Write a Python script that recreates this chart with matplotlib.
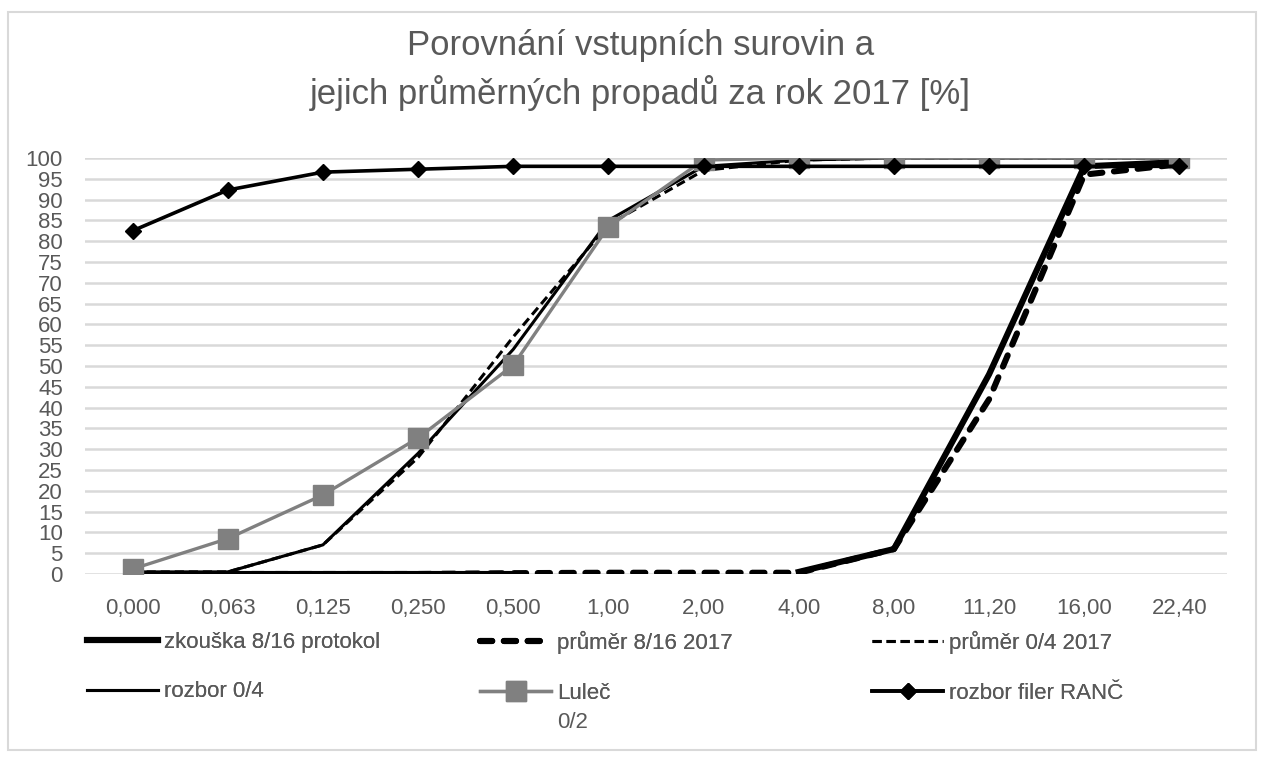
import numpy as np
import matplotlib.pyplot as plt
from matplotlib.patches import Rectangle

plt.rcParams['font.family'] = ['Liberation Sans', 'DejaVu Sans']

# Data
sita = ['0,000', '0,063', '0,125', '0,250', '0,500', '1,00', '2,00',
        '4,00', '8,00', '11,20', '16,00', '22,40']
zkouska_816 = [0, 0, 0, 0, 0, np.nan, np.nan, 0.5, 6, 48, 98, 99]
prumer_816 = [0, 0, 0, 0, 0.2, 0.3, 0.3, 0.3, 6, 42, 96, 98.5]
prumer_04 = [0.5, 0.5, 7, 28, 57, 84, 97, 99.5, 100, 100, 100, 100]
rozbor_04 = [0.5, 0.5, 7, 29, 54, 85, 98, 99.5, 100, 100, 100, 100]
lulec_02 = [1.2, 8.5, 19, 32.7, 50.2, 83.5, 99.5, 100, 100, 100, 100, 100]
filer_ranc = [82.5, 92.3, 96.6, 97.3, 98, 98, 98, 98, 98, 98, 98, 98]

x = np.arange(len(sita))
grey_text = '#595959'
W, H = 1263, 760

fig = plt.figure(figsize=(12.63, 7.60), dpi=100)
ax = fig.add_axes([85 / W, 1 - 574 / H, 1142 / W, 416 / H])

h1, = ax.plot(x, zkouska_816, color='black', lw=4.4, label='zkouška 8/16 protokol', zorder=3)
h2, = ax.plot(x, prumer_816, color='black', lw=4.4, ls=(0, (2.0, 1.9)), dash_capstyle='round',
              label='průměr 8/16 2017', zorder=3)
h3, = ax.plot(x, prumer_04, color='black', lw=2.2, ls=(0, (3, 1.6)), label='průměr 0/4 2017', zorder=4)
h4, = ax.plot(x, rozbor_04, color='black', lw=2.2, label='rozbor 0/4', zorder=4)
h5, = ax.plot(x, lulec_02, color='#808080', lw=2.4, marker='s', ms=14, label='Luleč', zorder=5)
h6, = ax.plot(x, filer_ranc, color='black', lw=2.6, marker='D', ms=8, label='rozbor filer RANČ', zorder=6)

ax.set_xlim(-0.5, len(sita) - 0.5)
ax.set_ylim(0, 100)
ax.set_yticks(np.arange(0, 101, 5))
ax.set_xticks(x)
ax.set_xticklabels(sita)
ax.tick_params(axis='both', length=0, labelsize=16, colors=grey_text)
ax.tick_params(axis='x', pad=17)
ax.tick_params(axis='y', pad=16)
ax.grid(axis='y', color='#d9d9d9', lw=1.8)
ax.set_axisbelow(True)
for s in ax.spines.values():
    s.set_visible(False)

fig.text(0.507, 1 - 45 / H, 'Porovnání vstupních surovin a', ha='center', va='center',
         fontsize=25, color=grey_text)
fig.text(0.507, 1 - 93 / H, 'jejich průměrných propadů za rok 2017 [%]', ha='center', va='center',
         fontsize=25, color=grey_text)

# legend: three columns, each its own legend so the columns start where they do in the chart
columns = [([h1, h4], 87), ([h2, h5], 480), ([h3, h6], 872)]
for hs, xpx in columns:
    leg = fig.legend(hs, [h.get_label() for h in hs], loc='center left',
                     bbox_to_anchor=(xpx / W, 1 - 667 / H), frameon=False,
                     fontsize=16, handlelength=3.2, handletextpad=0.25,
                     labelspacing=1.3, borderpad=0, borderaxespad=0, numpoints=1)
    for t in leg.get_texts():
        t.set_color(grey_text)
    fig.add_artist(leg)

# second line of the wrapped "Luleč 0/2" label
fig.text(557 / W, 1 - 722 / H, '0/2', ha='left', va='center', fontsize=16, color=grey_text)

# chart border
fig.patches.append(Rectangle((8 / W, 10 / H), 1248 / W, 738 / H, transform=fig.transFigure,
                             fill=False, edgecolor='#d9d9d9', lw=1.5))

fig.savefig('out.png', dpi=100)
